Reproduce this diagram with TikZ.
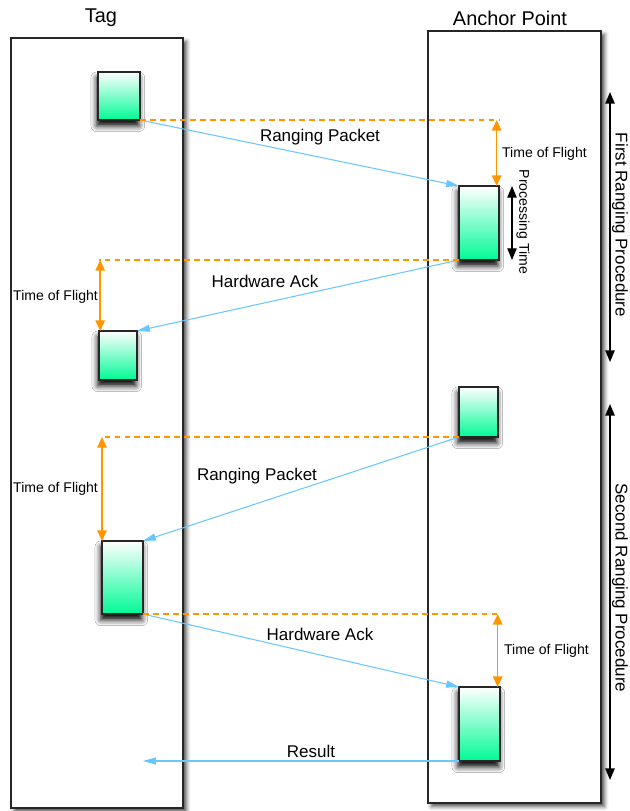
\documentclass[tikz,border=0pt]{standalone}
\usepackage{fontspec}
\setmainfont{Liberation Sans}
\usetikzlibrary{arrows.meta, positioning, calc, shadows.blur}

\definecolor{pktgreen}{RGB}{0,250,150}
\definecolor{tofOrange}{RGB}{255,150,0}
\definecolor{msgBlue}{RGB}{105,198,255}

\begin{document}
\begin{tikzpicture}[x=0.3mm, y=-0.3mm,
  lane/.style={draw=black!85, line width=1.1pt, fill=white, inner sep=0pt, outer sep=0pt,
    blur shadow={shadow xshift=3pt, shadow yshift=-3pt, shadow blur radius=3.5pt, shadow opacity=70}},
  pkt/.style={draw=black!85, line width=1pt, top color=white, bottom color=pktgreen, inner sep=0pt, outer sep=0pt,
    blur shadow={shadow xshift=-1pt, shadow yshift=-5pt, shadow blur radius=5pt, shadow opacity=100}},
  msg/.style={draw=msgBlue, line width=0.9pt, -{Triangle[length=11pt, width=6pt]}},
  tof/.style={draw=tofOrange, line width=0.9pt, dash pattern=on 5pt off 3.5pt},
  tofarrow/.style={draw=tofOrange, line width=1.3pt, {Triangle[length=9pt, width=8pt]}-{Triangle[length=9pt, width=8pt]}},
  span/.style={draw=black, line width=1.3pt, {Triangle[length=10pt, width=8pt]}-{Triangle[length=10pt, width=8pt]}},
  title/.style={font=\fontsize{17}{20}\selectfont},
  lbl/.style={font=\fontsize{14.5}{17}\selectfont},
  small/.style={font=\fontsize{12}{14}\selectfont}
]
  \useasboundingbox (0,0) rectangle (630,811);

  % Lanes
  \node[lane, minimum width=51.6mm, minimum height=231mm] (tag) at (97,423) {};
  \node[lane, minimum width=51.9mm, minimum height=231.6mm] (anchor) at (514.5,417) {};
  \node[title] (tagtitle) at (101,18) {Tag};
  \node[title] (anchortitle) at (510,18) {Anchor Point};

  % Packets
  \node[pkt, minimum width=12.6mm, minimum height=14.4mm] (tag1) at (119,96) {};
  \node[pkt, minimum width=12mm, minimum height=22.2mm] (anchor1) at (479,223) {};
  \node[pkt, minimum width=11.4mm, minimum height=14.7mm] (tag2) at (118,355.5) {};
  \node[pkt, minimum width=11.7mm, minimum height=15mm] (anchor2) at (478.5,412) {};
  \node[pkt, minimum width=12.3mm, minimum height=21.9mm] (tag3) at (122.5,577.5) {};
  \node[pkt, minimum width=12.3mm, minimum height=22.2mm] (anchor3) at (479.5,724) {};

  % Messages
  \draw[msg] (tag1.south east) -- (anchor1.north west);
  \node[lbl] (msg1) at (320,137) {Ranging Packet};
  \draw[msg] (anchor1.south west) -- (tag2.north east);
  \node[lbl] (msg2) at (265,281) {Hardware Ack};
  \draw[msg] (anchor2.south west) -- (tag3.north east);
  \node[lbl] (msg3) at (257,476) {Ranging Packet};
  \draw[msg] (tag3.south east) -- (anchor3.north west);
  \node[lbl] (msg4) at (320,634) {Hardware Ack};
  \draw[msg] (anchor3.south west) -- (anchor3.south west -| tag3.east) coordinate (res);
  \node[lbl] (result) at (311,751) {Result};

  % Time of flight
  \draw[tof] (tag1.south east) -- (tag1.south east -| anchor1.east) coordinate (tof1);
  \draw[tofarrow] ([xshift=-2pt]tof1) -- ([xshift=-2pt]anchor1.north east);
  \node[small, anchor=west] (tofl1) at (498,154) {Time of Flight};

  \draw[tof] (anchor1.south west) -- (anchor1.south west -| tag2.west) coordinate (tof2);
  \draw[tofarrow] ([xshift=1pt]tof2) -- ([xshift=1pt]tag2.north west);
  \node[small, anchor=east] (tofl2) at (102,297) {Time of Flight};

  \draw[tof] (anchor2.south west) -- (anchor2.south west -| tag3.west) coordinate (tof3);
  \draw[tofarrow] (tof3) -- (tag3.north west);
  \node[small, anchor=east] (tofl3) at (102,489) {Time of Flight};

  \draw[tof] (tag3.south east) -- (tag3.south east -| anchor3.east) coordinate (tof4);
  \draw[tofarrow] ([xshift=-2pt]tof4) -- ([xshift=-2pt]anchor3.north east);
  \node[small, anchor=west] (tofl4) at (500,651) {Time of Flight};

  % Processing time
  \draw[span, line width=1.1pt] ([xshift=3.9mm]anchor1.north east) -- ([xshift=3.9mm]anchor1.south east);
  \node[small, rotate=-90] (proc) at (523,222) {Processing Time};

  % Ranging procedures
  \coordinate (first top) at (610,92);
  \coordinate (first bottom) at (610,362);
  \coordinate (second top) at (610,404);
  \coordinate (second bottom) at (610,780);
  \draw[span] (first top) -- (first bottom);
  \draw[span] (second top) -- (second bottom);
  \node[lbl, rotate=-90] (first) at (620,225) {First Ranging Procedure};
  \node[lbl, rotate=-90] (second) at (620,588) {Second Ranging Procedure};

\end{tikzpicture}
\end{document}
